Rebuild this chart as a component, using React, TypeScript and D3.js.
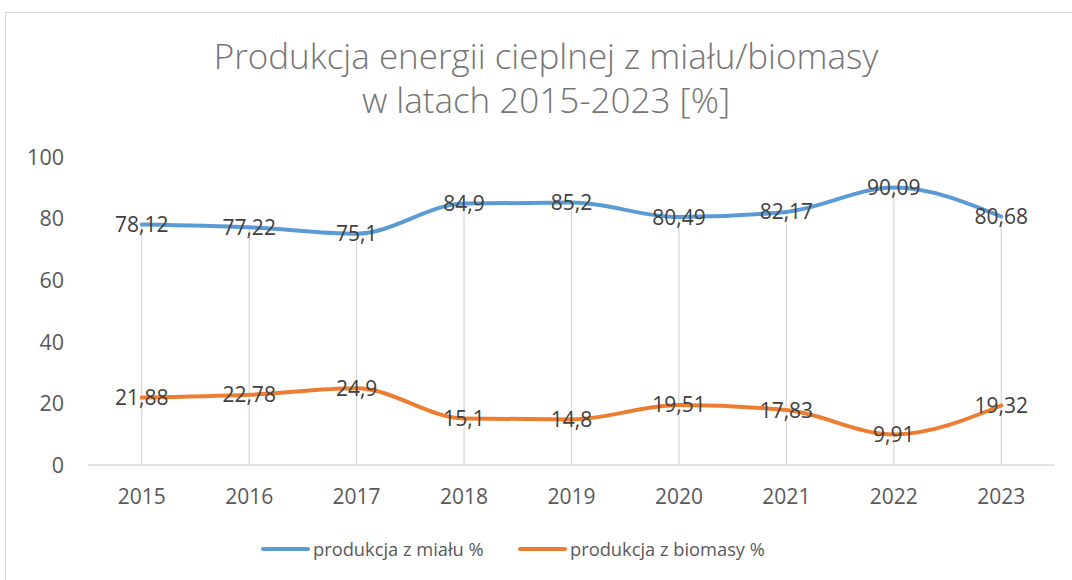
import React from "react";
import * as d3 from "d3";

const years = ["2015", "2016", "2017", "2018", "2019", "2020", "2021", "2022", "2023"];
const mial = [78.12, 77.22, 75.1, 84.9, 85.2, 80.49, 82.17, 90.09, 80.68];
const biomasa = [21.88, 22.78, 24.9, 15.1, 14.8, 19.51, 17.83, 9.91, 19.32];
const yTicks = [0, 20, 40, 60, 80, 100];
const seriesNames = ["produkcja z miału %", "produkcja z biomasy %"];
const colors = ["#5B9BD5", "#ED7D31"];

const W = 1072;
const H = 580;
const FONT = "'Open Sans', Lato, sans-serif";

export default function App() {
  const x = d3.scaleBand<string>().domain(years).range([88, 1055]);
  const y = d3.scaleLinear().domain([0, 100]).range([465, 157]);
  const cx = (d: string) => (x(d) as number) + x.bandwidth() / 2;
  const line = d3
    .line<number>()
    .x((_, i) => cx(years[i]))
    .y((v) => y(v))
    .curve(d3.curveMonotoneX);
  const series = [mial, biomasa];
  const fmt = (v: number) => String(v).replace(".", ",");

  return (
    <svg
      width={W}
      height={H}
      style={{ position: "absolute", left: 0, top: 0, background: "#fff" }}
      fontFamily={FONT}
    >
      <rect x={5.5} y={12.5} width={1080} height={600} fill="#fff" stroke="#d9d9d9" strokeWidth={1} />
      <text x={546} y={69} textAnchor="middle" fontSize={35} fontWeight={300} fill="#757575">
        Produkcja energii cieplnej z miału/biomasy
      </text>
      <text x={546} y={113} textAnchor="middle" fontSize={35} fontWeight={300} fill="#757575">
        w latach 2015-2023 [%]
      </text>
      {yTicks.map((t) => (
        <text key={t} x={64} y={y(t)} dy="0.36em" textAnchor="end" fontSize={21.5} fill="#595959">
          {t}
        </text>
      ))}
      {/* drop lines */}
      {years.map((yr, i) => (
        <line
          key={yr}
          x1={cx(yr)}
          x2={cx(yr)}
          y1={y(Math.max(mial[i], biomasa[i]))}
          y2={y(0)}
          stroke="#d9d9d9"
          strokeWidth={1.3}
        />
      ))}
      <line x1={88} x2={1055} y1={y(0)} y2={y(0)} stroke="#d9d9d9" strokeWidth={1.3} />
      {years.map((yr) => (
        <text key={yr} x={cx(yr)} y={496} dy="0.36em" textAnchor="middle" fontSize={21} fill="#595959">
          {yr}
        </text>
      ))}
      {series.map((s, k) => (
        <path key={k} d={line(s) || ""} fill="none" stroke={colors[k]} strokeWidth={4} strokeLinecap="round" />
      ))}
      {series.map((s, k) =>
        s.map((v, i) => (
          <text
            key={`${k}-${i}`}
            x={cx(years[i])}
            y={y(v)}
            dy="0.36em"
            textAnchor="middle"
            fontSize={21}
            fill="#404040"
          >
            {fmt(v)}
          </text>
        ))
      )}
      {/* legend */}
      {seriesNames.map((n, k) => {
        const lx = k === 0 ? 263 : 520;
        return (
          <g key={n}>
            <line x1={lx} x2={lx + 45} y1={549} y2={549} stroke={colors[k]} strokeWidth={4} strokeLinecap="round" />
            <text x={lx + 50} y={549} dy="0.36em" fontSize={18.3} fill="#595959">
              {n}
            </text>
          </g>
        );
      })}
    </svg>
  );
}
